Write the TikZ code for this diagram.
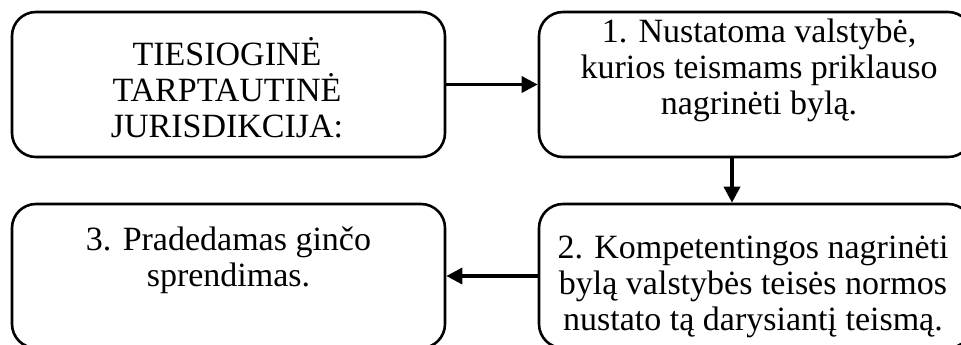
\documentclass[tikz,border=0pt]{standalone}
\usepackage{fontspec}
\setmainfont{Liberation Serif}
\usepackage{tikz}
\usetikzlibrary{arrows.meta, positioning}

\begin{document}
\begin{tikzpicture}[
    x=0.5pt, y=-0.5pt,
    stepbox/.style={draw, line width=1.3pt, rounded corners=12pt, minimum width=216.5pt, minimum height=72.5pt},
    steptext/.style={align=center, inner sep=0pt, font=\fontsize{17pt}{18pt}\selectfont},
    flow/.style={-{Triangle[length=8pt, width=8pt]}, line width=1.7pt}
]

% Frame of the page
\useasboundingbox (0,0) rectangle (961,344);

% Boxes, top row then bottom row
\node[stepbox] (jur_box) at (228.5,84.5) {};
\node[stepbox] (step1_box) at (755.5,84.5) {};
\node[stepbox, minimum height=72pt] (step2_box) at (755.5,276) {};
\node[stepbox, minimum height=72pt] (step3_box) at (228.5,276) {};

% Texts inside the boxes
\node[steptext] (jur_text) at (227,88) {TIESIOGINĖ\\TARPTAUTINĖ\\JURISDIKCIJA:};
\node[steptext] (step1_text) at (759,70) {1. Nustatoma valstybė,\\kurios teismams priklauso\\nagrinėti bylą.};
\node[steptext] (step2_text) at (753,287) {2. Kompetentingos nagrinėti\\bylą valstybės teisės normos\\nustato tą darysiantį teismą.};
\node[steptext] (step3_text) at (228.5,260) {3. Pradedamas ginčo\\sprendimas.};

% Arrows between the steps
\draw[flow] (jur_box.east) -- (step1_box.west);
\draw[flow] ([xshift=-11.75pt]step1_box.south) -- ([xshift=-11.75pt]step2_box.north);
\draw[flow] (step2_box.west) -- (step3_box.east);

\end{tikzpicture}
\end{document}
